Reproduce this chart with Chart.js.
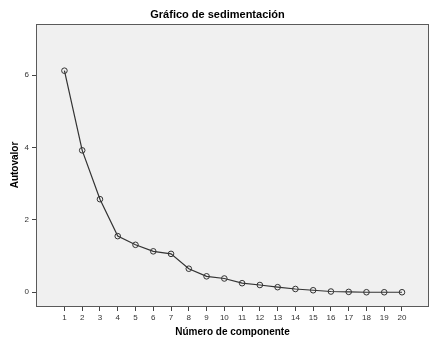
<!DOCTYPE html>
<html>
<head>
<meta charset="utf-8">
<script src="https://cdn.jsdelivr.net/npm/chart.js@4"></script>
<style>
  html, body { margin: 0; padding: 0; background: #ffffff; }
  #wrap { width: 435px; height: 348px; }
</style>
</head>
<body>
<div id="wrap"><canvas id="c" width="435" height="348"></canvas></div>
<script>
const chartTitle = "Gráfico de sedimentación";
const xTitle = "Número de componente";
const yTitle = "Autovalor";
const components = [1,2,3,4,5,6,7,8,9,10,11,12,13,14,15,16,17,18,19,20];
const eigenvalues = [6.12, 3.92, 2.57, 1.55, 1.31, 1.13, 1.06, 0.65, 0.44, 0.38, 0.25, 0.20, 0.14, 0.09, 0.055, 0.02, 0.01, 0.0, 0.0, 0.0];
const yTicks = [0, 2, 4, 6];

const points = components.map((c, i) => ({ x: c, y: eigenvalues[i] }));

const framePlugin = {
  id: 'frame',
  beforeDraw(chart) {
    const { ctx, chartArea: a } = chart;
    ctx.save();
    ctx.fillStyle = '#f0f0f0';
    ctx.fillRect(a.left, a.top, a.right - a.left, a.bottom - a.top);
    ctx.restore();
  },
  afterDatasetsDraw(chart) {
    const { ctx, chartArea: a } = chart;
    ctx.save();
    ctx.strokeStyle = '#5a5a5a';
    ctx.lineWidth = 1;
    ctx.strokeRect(a.left + 0.5, a.top + 0.5, a.right - a.left - 1, a.bottom - a.top);
    ctx.restore();
  },
  afterDraw(chart) {
    const { ctx } = chart;
    ctx.save();
    ctx.fillStyle = '#000000';
    ctx.font = 'bold 11px "Liberation Sans", Arial, sans-serif';
    ctx.textAlign = 'center';
    ctx.textBaseline = 'middle';
    ctx.fillText(chartTitle, 217.5, 15);
    ctx.restore();
  }
};

new Chart(document.getElementById('c'), {
  type: 'line',
  data: {
    datasets: [{
      data: points,
      borderColor: '#333333',
      borderWidth: 1.2,
      pointRadius: 2.8,
      pointBorderWidth: 1,
      pointBorderColor: '#333333',
      pointBackgroundColor: 'rgba(0,0,0,0)',
      tension: 0,
      fill: false
    }]
  },
  options: {
    responsive: false,
    animation: false,
    layout: { padding: { top: 24, right: 6, left: 0, bottom: 0 } },
    plugins: { legend: { display: false }, title: { display: false }, tooltip: { enabled: false } },
    scales: {
      x: {
        type: 'linear',
        min: -0.6,
        max: 21.52,
        afterBuildTicks(s) { s.ticks = components.map(v => ({ value: v })); },
        afterFit(s) { s.height = 42; },
        grid: { display: true, drawOnChartArea: false, drawTicks: true, tickLength: 5, color: '#444444' },
        border: { display: false },
        ticks: { color: '#333333', font: { family: '"Liberation Sans", Arial, sans-serif', size: 8 }, padding: 2, maxRotation: 0, autoSkip: false },
        title: { display: true, text: xTitle, color: '#000000', font: { family: '"Liberation Sans", Arial, sans-serif', size: 10, weight: 'bold' }, padding: { top: 0, bottom: 10 } }
      },
      y: {
        type: 'linear',
        min: -0.38,
        max: 7.41,
        afterBuildTicks(s) { s.ticks = yTicks.map(v => ({ value: v })); },
        afterFit(s) { s.width = 36; },
        grid: { display: true, drawOnChartArea: false, drawTicks: true, tickLength: 4, color: '#444444' },
        border: { display: false },
        ticks: { color: '#333333', font: { family: '"Liberation Sans", Arial, sans-serif', size: 8 }, padding: 3 },
        title: { display: true, text: yTitle, color: '#000000', font: { family: '"Liberation Sans", Arial, sans-serif', size: 10, weight: 'bold' }, padding: { top: 9, bottom: 0 } }
      }
    }
  },
  plugins: [framePlugin]
});
</script>
</body>
</html>
